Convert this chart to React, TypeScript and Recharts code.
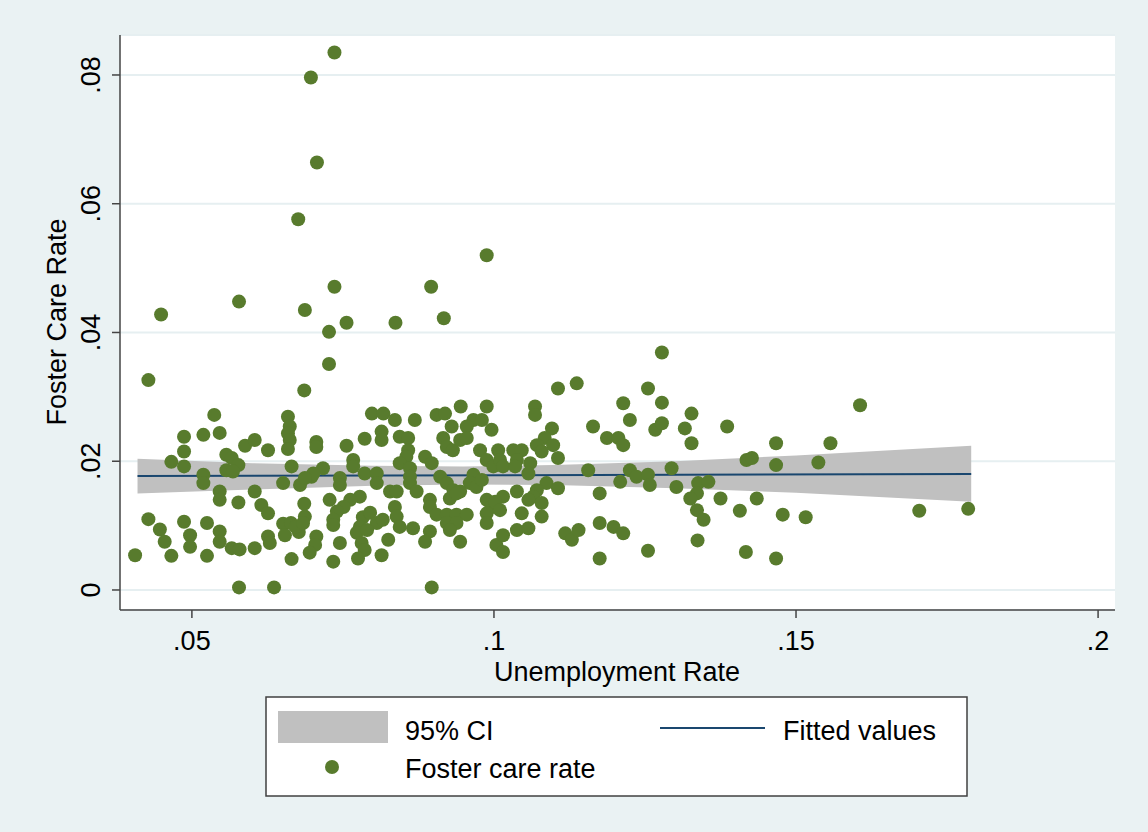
import React from 'react';
import { ComposedChart, Area, Line, Scatter, XAxis, YAxis, CartesianGrid } from 'recharts';

// scatter points: unemployment rate (x) and foster care rate (y)
const unemploymentRate = [
  0.0736, 0.0697, 0.0707, 0.0676, 0.0988, 0.0736, 0.0896, 0.0578, 0.0449, 0.0687,
  0.0756, 0.0727, 0.0837, 0.0917, 0.0727, 0.0428, 0.0686, 0.0537, 0.0487, 0.0519,
  0.0546, 0.0659, 0.0662, 0.0659, 0.0662, 0.0659, 0.0588, 0.0604, 0.0626, 0.0487,
  0.0466, 0.0487, 0.0557, 0.0566, 0.0577, 0.0557, 0.0568, 0.0519, 0.0519, 0.0706,
  0.0665, 0.0651, 0.0679, 0.0698, 0.0546, 0.0546, 0.0577, 0.0604, 0.0615, 0.0626,
  0.0686, 0.0687, 0.0428, 0.0487, 0.0525, 0.0447, 0.0455, 0.0497, 0.0497, 0.0546,
  0.0546, 0.0566, 0.0579, 0.0604, 0.0626, 0.0629, 0.0651, 0.0664, 0.0677, 0.0654,
  0.0672, 0.0706, 0.0704, 0.0406, 0.0466, 0.0525, 0.0665, 0.0695, 0.0578, 0.0636,
  0.0798, 0.0817, 0.0836, 0.0869, 0.0905, 0.0919, 0.0945, 0.0988, 0.0966, 0.0955,
  0.0930, 0.0996, 0.0814, 0.0814, 0.0786, 0.0706, 0.0756, 0.0844, 0.0858, 0.0916,
  0.0922, 0.0932, 0.0944, 0.0955, 0.0858, 0.0855, 0.0886, 0.0897, 0.0977, 0.0988,
  0.0999, 0.0844, 0.0861, 0.0767, 0.0767, 0.0717, 0.0701, 0.0687, 0.0745, 0.0745,
  0.0786, 0.0806, 0.0806, 0.0861, 0.0861, 0.0911, 0.0922, 0.0933, 0.0966, 0.0960,
  0.0971, 0.0828, 0.0839, 0.0872, 0.0944, 0.0728, 0.0684, 0.0778, 0.0762, 0.0751,
  0.0740, 0.0734, 0.0734, 0.0836, 0.0894, 0.0894, 0.0927, 0.0938, 0.0905, 0.0922,
  0.0938, 0.0955, 0.0922, 0.0938, 0.0988, 0.0996, 0.0988, 0.0988, 0.0839, 0.0783,
  0.0795, 0.0806, 0.0816, 0.0778, 0.0773, 0.0790, 0.0844, 0.0866, 0.0894, 0.0886,
  0.0927, 0.0745, 0.0781, 0.0786, 0.0775, 0.0825, 0.0814, 0.0734, 0.0944, 0.1004,
  0.0897, 0.1278, 0.1106, 0.1137, 0.1255, 0.1214, 0.1278, 0.0980, 0.1068, 0.1068,
  0.1225, 0.1267, 0.1278, 0.1096, 0.1164, 0.1187, 0.1206, 0.1214, 0.1084, 0.1071,
  0.1098, 0.1079, 0.1007, 0.1032, 0.1046, 0.1106, 0.1010, 0.1038, 0.1060, 0.1057,
  0.1015, 0.1035, 0.1156, 0.1225, 0.1236, 0.1255, 0.1258, 0.1294, 0.1302, 0.1209,
  0.0980, 0.1087, 0.1071, 0.1065, 0.1057, 0.1079, 0.1106, 0.1038, 0.1175, 0.1015,
  0.1002, 0.1010, 0.1046, 0.1079, 0.1038, 0.1057, 0.1118, 0.1129, 0.1140, 0.1175,
  0.1198, 0.1214, 0.1015, 0.1015, 0.1175, 0.1255, 0.1606, 0.1327, 0.1316, 0.1386,
  0.1327, 0.1467, 0.1557, 0.1418, 0.1427, 0.1467, 0.1537, 0.1338, 0.1355, 0.1336,
  0.1325, 0.1375, 0.1435, 0.1336, 0.1347, 0.1407, 0.1478, 0.1516, 0.1704, 0.1785,
  0.1337, 0.1417, 0.1467,
];

const fosterCareRate = [
  0.0835, 0.0796, 0.0664, 0.0576, 0.0520, 0.0471, 0.0471, 0.0448, 0.0428, 0.0435,
  0.0415, 0.0401, 0.0415, 0.0422, 0.0351, 0.0326, 0.0310, 0.0272, 0.0238, 0.0241,
  0.0244, 0.0269, 0.0254, 0.0243, 0.0233, 0.0219, 0.0224, 0.0233, 0.0217, 0.0215,
  0.0199, 0.0192, 0.0210, 0.0205, 0.0194, 0.0186, 0.0184, 0.0179, 0.0166, 0.0230,
  0.0192, 0.0166, 0.0163, 0.0176, 0.0153, 0.0140, 0.0136, 0.0153, 0.0132, 0.0119,
  0.0134, 0.0114, 0.0110, 0.0106, 0.0104, 0.0094, 0.0075, 0.0085, 0.0067, 0.0091,
  0.0075, 0.0065, 0.0063, 0.0065, 0.0083, 0.0073, 0.0103, 0.0104, 0.0090, 0.0085,
  0.0098, 0.0083, 0.0070, 0.0054, 0.0053, 0.0053, 0.0048, 0.0058, 0.0004, 0.0004,
  0.0274, 0.0274, 0.0264, 0.0264, 0.0272, 0.0274, 0.0285, 0.0285, 0.0264, 0.0254,
  0.0254, 0.0249, 0.0246, 0.0233, 0.0235, 0.0222, 0.0224, 0.0238, 0.0236, 0.0236,
  0.0222, 0.0217, 0.0233, 0.0236, 0.0217, 0.0207, 0.0207, 0.0197, 0.0217, 0.0202,
  0.0192, 0.0197, 0.0189, 0.0202, 0.0192, 0.0189, 0.0181, 0.0174, 0.0174, 0.0163,
  0.0181, 0.0181, 0.0166, 0.0176, 0.0166, 0.0176, 0.0166, 0.0155, 0.0179, 0.0166,
  0.0160, 0.0153, 0.0153, 0.0153, 0.0153, 0.0140, 0.0104, 0.0145, 0.0140, 0.0129,
  0.0122, 0.0109, 0.0101, 0.0129, 0.0140, 0.0129, 0.0142, 0.0150, 0.0117, 0.0117,
  0.0117, 0.0117, 0.0104, 0.0104, 0.0140, 0.0129, 0.0119, 0.0104, 0.0114, 0.0113,
  0.0120, 0.0104, 0.0109, 0.0098, 0.0089, 0.0093, 0.0098, 0.0096, 0.0091, 0.0075,
  0.0093, 0.0073, 0.0073, 0.0062, 0.0049, 0.0078, 0.0054, 0.0044, 0.0075, 0.0070,
  0.0004, 0.0369, 0.0313, 0.0321, 0.0313, 0.0290, 0.0291, 0.0264, 0.0285, 0.0272,
  0.0264, 0.0249, 0.0259, 0.0251, 0.0254, 0.0236, 0.0236, 0.0225, 0.0236, 0.0225,
  0.0225, 0.0215, 0.0217, 0.0217, 0.0217, 0.0205, 0.0202, 0.0202, 0.0197, 0.0181,
  0.0192, 0.0192, 0.0186, 0.0186, 0.0176, 0.0179, 0.0163, 0.0189, 0.0160, 0.0168,
  0.0171, 0.0166, 0.0155, 0.0145, 0.0140, 0.0135, 0.0158, 0.0153, 0.0150, 0.0145,
  0.0137, 0.0124, 0.0119, 0.0114, 0.0093, 0.0096, 0.0088, 0.0078, 0.0093, 0.0104,
  0.0098, 0.0088, 0.0085, 0.0059, 0.0049, 0.0061, 0.0287, 0.0274, 0.0251, 0.0254,
  0.0228, 0.0228, 0.0228, 0.0202, 0.0205, 0.0194, 0.0198, 0.0166, 0.0168, 0.0150,
  0.0142, 0.0142, 0.0142, 0.0124, 0.0109, 0.0123, 0.0117, 0.0113, 0.0123, 0.0126,
  0.0077, 0.0059, 0.0049,
];

// 95% CI band and fitted line
const bandX = [0.041, 0.06, 0.08, 0.095, 0.11, 0.13, 0.15, 0.179];
const bandLow = [0.0150, 0.0156, 0.0162, 0.0164, 0.0163, 0.0158, 0.0151, 0.0137];
const bandHigh = [0.0204, 0.0197, 0.0193, 0.0192, 0.0194, 0.0200, 0.0209, 0.0224];
const fitX = [0.041, 0.179];
const fitY = [0.0177, 0.0180];

const xTicks = [0.05, 0.1, 0.15, 0.2];
const yTicks = [0, 0.02, 0.04, 0.06, 0.08];

const GREEN = '#587b2d';
const NAVY = '#1a476f';
const BAND = '#c0c0c0';
const FONT = '"Liberation Sans", Arial, Helvetica, sans-serif';
const FS = 27;

const points = unemploymentRate.map((x, i) => ({ x, y: fosterCareRate[i] }));
const bandData = bandX.map((x, i) => {
  const fi = fitX.indexOf(x);
  return { x, band: [bandLow[i], bandHigh[i]], fit: fi >= 0 ? fitY[fi] : undefined };
});

const fmt = (v: number) => (v === 0 ? '0' : v.toFixed(2).replace(/0+$/, '').replace(/^0/, ''));

const XTick = (props: any) => (
  <text x={props.x} y={props.y + 30} textAnchor="middle" fontSize={FS} fontFamily={FONT} fill="#000">
    {fmt(props.payload.value)}
  </text>
);

const YTick = (props: any) => {
  const bx = props.x - 10;
  return (
    <text x={bx} y={props.y} transform={`rotate(-90 ${bx} ${props.y})`} textAnchor="middle" fontSize={FS} fontFamily={FONT} fill="#000">
      {fmt(props.payload.value)}
    </text>
  );
};

const Dot = (props: any) => <circle cx={props.cx} cy={props.cy} r={7} fill={GREEN} />;

export default function App() {
  return (
    <div style={{ position: 'absolute', left: 0, top: 0, width: 1148, height: 832, background: '#eaf2f3' }}>
      <ComposedChart width={1148} height={832} data={bandData} margin={{ top: 35, right: 33, bottom: 0, left: 0 }}>
        <CartesianGrid vertical={false} fill="#ffffff" stroke="#e6eff1" strokeWidth={2} />
        <XAxis
          type="number"
          dataKey="x"
          domain={[0.0381, 0.2028]}
          allowDataOverflow
          ticks={xTicks}
          tick={<XTick />}
          tickSize={8}
          height={222}
          stroke="#444"
          strokeWidth={1.5}
        />
        <YAxis
          type="number"
          domain={[-0.00311, 0.08621]}
          allowDataOverflow
          ticks={yTicks}
          tick={<YTick />}
          tickSize={8}
          width={120}
          stroke="#444"
          strokeWidth={1.5}
        />
        <Area type="linear" dataKey="band" stroke="none" fill={BAND} fillOpacity={1} isAnimationActive={false} />
        <Line type="linear" dataKey="fit" stroke={NAVY} strokeWidth={2} dot={false} connectNulls isAnimationActive={false} />
        <Scatter data={points} dataKey="y" shape={<Dot />} isAnimationActive={false} />
      </ComposedChart>
      <svg width={1148} height={832} style={{ position: 'absolute', left: 0, top: 0, pointerEvents: 'none' }} fontFamily={FONT} fontSize={FS}>
        <text x={617} y={681} textAnchor="middle" fill="#000">Unemployment Rate</text>
        <text x={66} y={322} transform="rotate(-90 66 322)" textAnchor="middle" fill="#000">Foster Care Rate</text>
        <rect x={266} y={697} width={701} height={99} fill="#ffffff" stroke="#404040" strokeWidth={1.5} />
        <rect x={278} y={711} width={110} height={32} fill={BAND} />
        <text x={405} y={740} fill="#000">95% CI</text>
        <line x1={660} x2={765} y1={728} y2={728} stroke={NAVY} strokeWidth={2} />
        <text x={783} y={740} fill="#000">Fitted values</text>
        <circle cx={332} cy={767} r={7} fill={GREEN} />
        <text x={405} y={778} fill="#000">Foster care rate</text>
      </svg>
    </div>
  );
}
